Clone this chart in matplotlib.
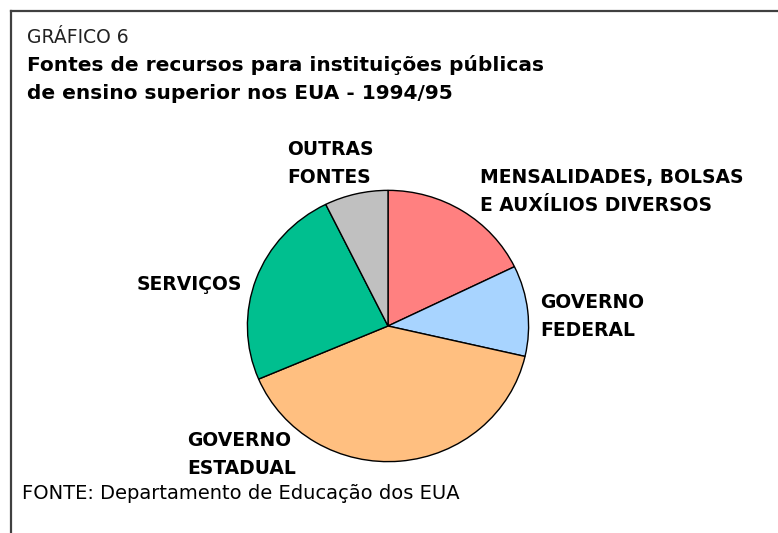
import matplotlib
matplotlib.use("Agg")
import matplotlib.pyplot as plt

W, H = 778, 533

categories = ["MENSALIDADES, BOLSAS\nE AUXÍLIOS DIVERSOS", "GOVERNO\nFEDERAL",
              "GOVERNO\nESTADUAL", "SERVIÇOS", "OUTRAS\nFONTES"]
shares = [17.8, 10.8, 40.0, 24.1, 7.3]
colors = ["#FF8080", "#A8D4FF", "#FFBF80", "#00BF8F", "#C0C0C0"]
# label anchor (left x, first-line baseline y) in pixels
label_pos = [(480, 183), (540, 308), (187, 446), (137, 290), (287, 155)]


def px(x, y):
    return x / W, 1 - y / H


fig = plt.figure(figsize=(W / 100, H / 100), dpi=100)

# frame (top and left only)
fig.add_artist(plt.Line2D([11 / W, 11 / W], [0, 1 - 11 / H], color="#404040", lw=1.6))
fig.add_artist(plt.Line2D([11 / W, 1], [1 - 11 / H, 1 - 11 / H], color="#404040", lw=1.6))

fig.text(*px(27, 43), "GRÁFICO 6", family="DejaVu Sans", fontsize=13.5,
         color="#222222", va="baseline")
fig.text(*px(27, 71), "Fontes de recursos para instituições públicas",
         family="DejaVu Sans", weight="bold", fontsize=14.5, va="baseline")
fig.text(*px(27, 99), "de ensino superior nos EUA - 1994/95",
         family="DejaVu Sans", weight="bold", fontsize=14.5, va="baseline")
fig.text(*px(22, 499), "FONTE: Departamento de Educação dos EUA",
         family="DejaVu Sans", fontsize=14, va="baseline")

cx, cy, rx, ry = 388, 326, 142, 137
ax = fig.add_axes([(cx - rx) / W, (H - cy - ry) / H, 2 * rx / W, 2 * ry / H])
ax.pie(shares, colors=colors, startangle=90, counterclock=False,
       wedgeprops=dict(edgecolor="black", linewidth=1.0))
ax.set_aspect("auto")
ax.set_xlim(-1.01, 1.01)
ax.set_ylim(-1.01, 1.01)
ax.axis("off")

for name, (x, y) in zip(categories, label_pos):
    for i, line in enumerate(name.split("\n")):
        fig.text(*px(x, y + i * 28), line, family="DejaVu Sans", weight="bold",
                 fontsize=13.5, va="baseline")

fig.savefig("out.png", dpi=100)
